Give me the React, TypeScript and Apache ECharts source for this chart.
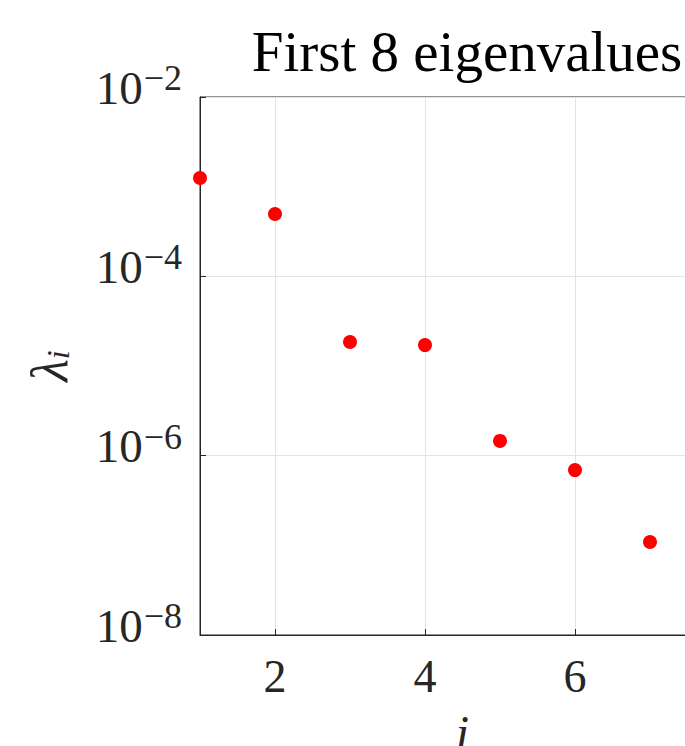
import React, { useEffect, useRef } from "react";
import * as echarts from "echarts";

const indices = [1, 2, 3, 4, 5, 6, 7];
const eigenvalues = [1.25e-3, 4.95e-4, 1.85e-5, 1.71e-5, 1.46e-6, 6.9e-7, 1.09e-7];
const xTickValues = [2, 4, 6];
const titleText = "First 8 eigenvalues";

const FONT = "'Liberation Serif', 'Times New Roman', serif";
const TXT = "#262626";

export default function App() {
  const ref = useRef<HTMLDivElement>(null);
  useEffect(() => {
    if (!ref.current) return;
    const chart = echarts.init(ref.current, null, { renderer: "svg" });
    chart.setOption({
      animation: false,
      backgroundColor: "#ffffff",
      title: {
        text: titleText,
        left: 462,
        textAlign: "center",
        top: 18,
        textStyle: { fontFamily: FONT, fontSize: 57, fontWeight: "normal", color: "#000" },
      },
      grid: {
        left: 200,
        right: -40,
        top: 97,
        bottom: 111,
        show: true,
        borderColor: TXT,
        borderWidth: 1,
        containLabel: false,
        outerBoundsMode: "none",
      },
      xAxis: {
        type: "value",
        min: 1,
        max: 8,
        name: "i",
        nameLocation: "middle",
        nameGap: 73,
        nameTextStyle: { fontFamily: FONT, fontSize: 48, fontStyle: "italic", color: TXT },
        axisLine: { show: true, lineStyle: { color: TXT, width: 1 } },
        axisTick: { show: true, inside: true, length: 6, customValues: xTickValues, lineStyle: { color: TXT } },
        axisLabel: {
          customValues: xTickValues,
          fontFamily: FONT,
          fontSize: 46,
          color: TXT,
          margin: 18,
        },
        splitLine: { show: true, lineStyle: { color: "#e3e3e3", width: 1 } },
      },
      yAxis: {
        type: "log",
        logBase: 10,
        min: 1e-8,
        max: 1e-2,
        interval: 2,
        name: "{l|λ}{s|i}",
        nameLocation: "middle",
        nameGap: 125,
        nameTextStyle: {
          color: TXT,
          rich: {
            l: { fontFamily: FONT, fontSize: 52, fontStyle: "italic", color: TXT, lineHeight: 52 },
            s: { fontFamily: FONT, fontSize: 32, fontStyle: "italic", color: TXT, lineHeight: 52, padding: [18, 0, 0, 0] },
          },
        },
        axisLine: { show: true, lineStyle: { color: TXT, width: 1 } },
        axisTick: { show: true, inside: true, length: 6, lineStyle: { color: TXT } },
        minorTick: { show: false },
        axisLabel: {
          margin: 18,
          formatter: (v: number) => {
            const e = Math.round(Math.log10(v));
            return "{b|10}{s|" + (e < 0 ? "\u2212" : "") + Math.abs(e) + "}";
          },
          rich: {
            b: { fontFamily: FONT, fontSize: 47, color: TXT, lineHeight: 47, padding: [0, 1, 19, 0] },
            s: { fontFamily: FONT, fontSize: 36, color: TXT, lineHeight: 36, padding: [0, 0, 38, 0] },
          },
        },
        splitLine: { show: true, lineStyle: { color: "#e3e3e3", width: 1 } },
      },
      series: [
        {
          type: "scatter",
          data: indices.map((x, i) => [x, eigenvalues[i]]),
          symbol: "circle",
          symbolSize: 14,
          itemStyle: { color: "#ff0000", opacity: 1 },
          clip: false,
        },
      ],
    });
    return () => chart.dispose();
  }, []);
  return (
    <div
      ref={ref}
      style={{ position: "fixed", left: 0, top: 0, width: 685, height: 746, overflow: "hidden" }}
    />
  );
}
